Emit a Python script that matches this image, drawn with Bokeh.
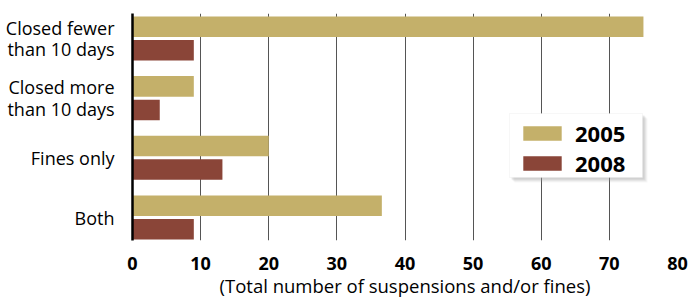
from bokeh.plotting import figure
from bokeh.models import Range1d, FixedTicker, Legend, LegendItem, BoxAnnotation
from bokeh.embed import file_html
from bokeh.resources import INLINE

categories = ["Closed fewer\nthan 10 days", "Closed more\nthan 10 days", "Fines only", "Both"]
values_2005 = [75, 9, 20, 36.6]
values_2008 = [9, 4, 13.2, 9]
x_ticks = [0, 10, 20, 30, 40, 50, 60, 70, 80]
x_title = "(Total number of suspensions and/or fines)"

C2005 = "#c4b06a"
C2008 = "#8a4538"
FONT = "Open Sans"

n = len(categories)
ypos = [n - 1 - i for i in range(n)]
off = 0.197
h = 0.344

p = figure(width=696, height=300, output_backend="svg", toolbar_location=None,
           x_range=Range1d(0, 80), y_range=Range1d(-0.385, 3.418),
           min_border_left=132, min_border_right=19, min_border_top=13, min_border_bottom=55)
p.outline_line_color = None
p.background_fill_color = "white"

r1 = p.hbar(y=[y + off for y in ypos], left=0, right=values_2005, height=h,
            fill_color=C2005, line_color=None)
r2 = p.hbar(y=[y - off for y in ypos], left=0, right=values_2008, height=h,
            fill_color=C2008, line_color=None)

p.xaxis.ticker = FixedTicker(ticks=x_ticks)
p.xaxis.axis_line_color = None
p.xaxis.major_tick_line_color = None
p.xaxis.minor_tick_line_color = None
p.xaxis.major_label_text_font = FONT
p.xaxis.major_label_text_font_style = "bold"
p.xaxis.major_label_text_font_size = "18px"
p.xaxis.major_label_text_color = "black"
p.xaxis.major_label_standoff = 10
p.xaxis.axis_label = x_title
p.xaxis.axis_label_text_font = FONT
p.xaxis.axis_label_text_font_style = "normal"
p.xaxis.axis_label_text_font_size = "18.5px"
p.xaxis.axis_label_text_color = "black"
p.xaxis.axis_label_standoff = 0

p.xgrid.ticker = FixedTicker(ticks=x_ticks)
p.xgrid.grid_line_color = "#555555"
p.xgrid.grid_line_width = 1
p.ygrid.visible = False

p.yaxis.ticker = FixedTicker(ticks=ypos)
p.yaxis.major_label_overrides = {y: c for y, c in zip(ypos, categories)}
p.yaxis.axis_line_color = "black"
p.yaxis.axis_line_width = 2.5
p.yaxis.major_tick_line_color = None
p.yaxis.minor_tick_line_color = None
p.yaxis.major_label_text_font = FONT
p.yaxis.major_label_text_font_size = "18px"
p.yaxis.major_label_text_line_height = 0.9
p.yaxis.major_label_text_color = "black"
p.yaxis.major_label_text_align = "right"
p.yaxis.major_label_standoff = 12

# legend box with soft shadow (screen units: relative to frame, y up from frame bottom)
BL, BR, BB, BT = 377, 510, 63, 127
for d, a in [(5, 0.08), (4, 0.12), (3, 0.16), (2, 0.2)]:
    p.add_layout(BoxAnnotation(left=BL + d, right=BR + d, top=BT - d, bottom=BB - d,
                               left_units="screen", right_units="screen",
                               top_units="screen", bottom_units="screen",
                               fill_color="#999999", fill_alpha=a, line_color=None))
p.add_layout(BoxAnnotation(left=BL, right=BR, top=BT, bottom=BB,
                           left_units="screen", right_units="screen",
                           top_units="screen", bottom_units="screen",
                           fill_color="white", fill_alpha=1, line_color="#e4e4e4",
                           line_width=1))

legend = Legend(items=[LegendItem(label="2005", renderers=[r1]),
                       LegendItem(label="2008", renderers=[r2])],
                location=(386, 62), orientation="vertical",
                border_line_color=None, background_fill_alpha=0,
                padding=5, spacing=-3, margin=0,
                glyph_width=48, glyph_height=18, label_standoff=9,
                label_text_font=FONT, label_text_font_style="bold",
                label_text_color="black", label_text_line_height=0.9,
                label_text_font_size="22px", label_height=24)
p.add_layout(legend)

open("out.html", "w").write(file_html(p, INLINE))
